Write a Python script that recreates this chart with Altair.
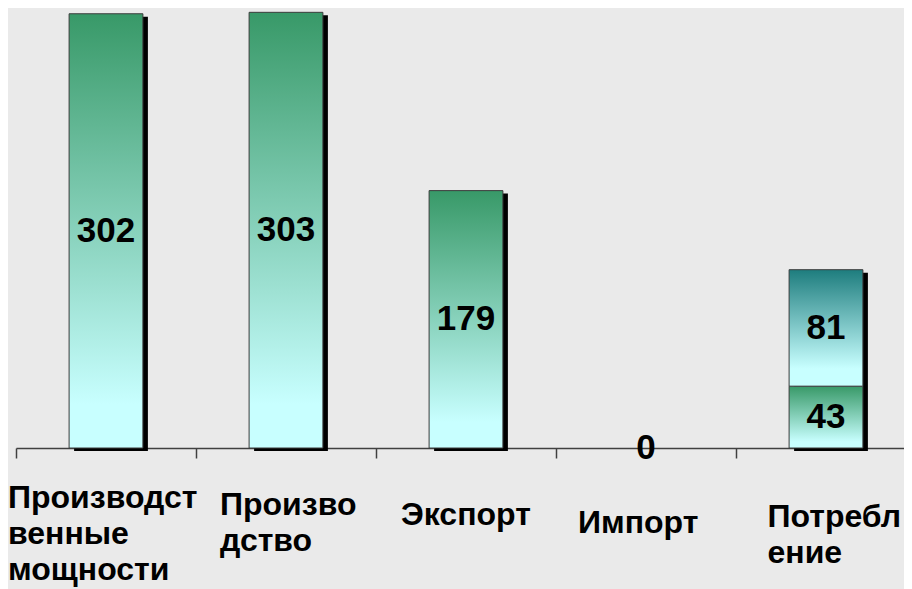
import altair as alt
import pandas as pd

categories = ["Производст\nвенные\nмощности", "Произво\nдство", "Экспорт", "Импорт", "Потребл\nение"]
base_values = [302, 303, 179, 0, 43]
upper_values = [0, 0, 0, 0, 81]

rows = []
for c, b, u in zip(categories, base_values, upper_values):
    rows.append({"cat": c, "part": "base", "start": 0, "end": b, "value": b, "total": b + u})
    if u:
        rows.append({"cat": c, "part": "upper", "start": b, "end": b + u, "value": u, "total": b + u})
df = pd.DataFrame(rows)

FONT = "Liberation Sans"

green = alt.LinearGradient(
    gradient="linear", x1=0, x2=0, y1=0, y2=1,
    stops=[alt.GradientStop(color="#389968", offset=0),
           alt.GradientStop(color="#c8ffff", offset=0.9),
           alt.GradientStop(color="#c8ffff", offset=1)],
)
teal = alt.LinearGradient(
    gradient="linear", x1=0, x2=0, y1=0, y2=1,
    stops=[alt.GradientStop(color="#1e7d7e", offset=0),
           alt.GradientStop(color="#c8ffff", offset=0.85),
           alt.GradientStop(color="#c8ffff", offset=1)],
)

xscale = alt.Scale(domain=categories, range=[0, 900], paddingInner=0.59, paddingOuter=0.295)
yscale = alt.Scale(domain=[0, 306], nice=False, zero=True)

TICK_SHIFT = -90  # half a band step: ticks sit between the bars
# left-aligned label blocks, shifted so each block sits centred under its bar
label_offset = {
    "condition": [
        {"test": "indexof(datum.value, 'Производст') == 0", "value": -98.5 - TICK_SHIFT},
        {"test": "indexof(datum.value, 'Произво') == 0", "value": -66.5 - TICK_SHIFT},
        {"test": "datum.value == 'Экспорт'", "value": -65.5 - TICK_SHIFT},
        {"test": "datum.value == 'Импорт'", "value": -68.5 - TICK_SHIFT},
    ],
    "value": -59 - TICK_SHIFT,
}
label_padding = {
    "condition": [
        {"test": "indexof(datum.value, 'Производст') == 0", "value": 24},
        {"test": "indexof(datum.value, 'Произво') == 0", "value": 31},
        {"test": "datum.value == 'Экспорт'", "value": 41},
        {"test": "datum.value == 'Импорт'", "value": 49},
    ],
    "value": 43,
}

x_enc = alt.X(
    "cat:N", scale=xscale, sort=categories, title=None,
    axis=alt.Axis(
        labelAngle=0, labelFont=FONT, labelFontSize=32, labelFontWeight="bold",
        labelColor="black", labelExpr="split(datum.label, '\\n')",
        labelLineHeight=36, labelBaseline="top", labelAlign="left",
        labelOffset=label_offset, labelPadding=label_padding,
        labelLimit=0, labelOverlap=False, labelBound=False, labelFlush=False,
        tickOffset=TICK_SHIFT, tickSize=10, tickColor="#404040", tickWidth=1.5,
        domainColor="#404040", domainWidth=1.5, grid=False,
    ),
)

base = alt.Chart(df)

shadow = base.transform_filter("datum.part == 'base' && datum.total > 0").mark_bar(
    color="black", xOffset=5, x2Offset=5, yOffset=3, y2Offset=3
).encode(
    x=x_enc,
    y=alt.Y("total:Q", scale=yscale, axis=None),
    y2=alt.Y2("start:Q"),
)

main_bars = base.transform_filter("datum.part == 'base' && datum.value > 0").mark_bar(
    fill=green, stroke="#3c3c3c", strokeWidth=1
).encode(
    x=alt.X("cat:N", scale=xscale, sort=categories),
    y=alt.Y("end:Q", scale=yscale, axis=None),
    y2=alt.Y2("start:Q"),
)

upper_bars = base.transform_filter("datum.part == 'upper'").mark_bar(
    fill=teal, stroke="#3c3c3c", strokeWidth=1
).encode(
    x=alt.X("cat:N", scale=xscale, sort=categories),
    y=alt.Y("end:Q", scale=yscale, axis=None),
    y2=alt.Y2("start:Q"),
)

labels = base.transform_calculate(mid="(datum.start + datum.end) / 2").mark_text(
    font=FONT, fontSize=35, fontWeight="bold", color="black", baseline="middle", align="center"
).encode(
    x=alt.X("cat:N", scale=xscale, sort=categories),
    y=alt.Y("mid:Q", scale=yscale, axis=None),
    text=alt.Text("value:Q"),
)

chart = alt.layer(shadow, main_bars, upper_bars, labels).properties(
    width=888, height=440,
    padding={"left": 8, "top": 0, "right": 0, "bottom": 141},
    autosize=alt.AutoSizeParams(type="none"),
    background="#eaeaea",
).configure_view(stroke=None)

chart.save("out.html", embed_options={"renderer": "svg", "actions": False})
